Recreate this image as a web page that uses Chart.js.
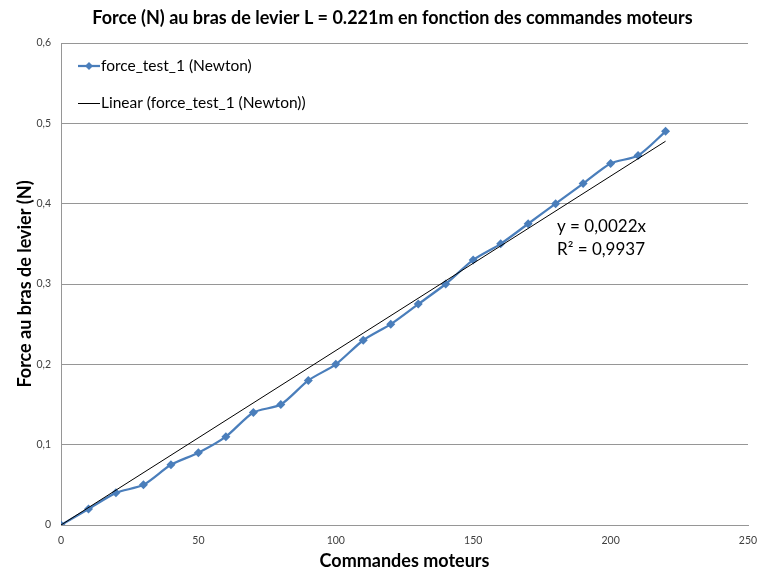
<!DOCTYPE html>
<html>
<head>
<meta charset="utf-8">
<script src="https://cdn.jsdelivr.net/npm/chart.js@4"></script>
<style>
  html, body { margin: 0; padding: 0; background: #fff; }
  #wrap { width: 759px; height: 572px; }
</style>
</head>
<body>
<div id="wrap"><canvas id="c" width="759" height="572"></canvas></div>
<script>
// Motor command values and measured force at the lever arm
const commandes = [0, 10, 20, 30, 40, 50, 60, 70, 80, 90, 100, 110, 120, 130, 140, 150, 160, 170, 180, 190, 200, 210, 220];
const forceTest1 = [0, 0.02, 0.04, 0.05, 0.075, 0.09, 0.11, 0.14, 0.15, 0.18, 0.2, 0.23, 0.25, 0.275, 0.3, 0.33, 0.35, 0.375, 0.4, 0.425, 0.45, 0.46, 0.49];
const xTicks = [0, 50, 100, 150, 200, 250];
const yTicks = [0, 0.1, 0.2, 0.3, 0.4, 0.5, 0.6];
const yTickLabels = ['0', '0,1', '0,2', '0,3', '0,4', '0,5', '0,6'];
const rSquaredText = '0,9937';

const chartTitle = 'Force (N) au bras de levier L = 0.221m en fonction des commandes moteurs';
const seriesLabel = 'force_test_1 (Newton)';
const trendLabel = 'Linear (force_test_1 (Newton))';
const FONT = 'Lato, "Open Sans", sans-serif';
const BLUE = '#4a7ebb';
const GRID = '#969696';

// Least-squares linear trend forced through the origin
let sxy = 0, sxx = 0;
for (let i = 0; i < commandes.length; i++) {
  sxy += commandes[i] * forceTest1[i];
  sxx += commandes[i] * commandes[i];
}
const slope = sxy / sxx;
const xMax = Math.max(...commandes);
const trendPoints = [{x: 0, y: 0}, {x: xMax, y: slope * xMax}];
const equationText = 'y = ' + slope.toFixed(4).replace('.', ',') + 'x';

const seriesPoints = commandes.map((x, i) => ({x, y: forceTest1[i]}));

// Title, legend inside the plot area, and the trend equation
const overlay = {
  id: 'overlay',
  afterDatasetsDraw(chart) {
    const ctx = chart.ctx;
    const a = chart.chartArea;
    ctx.save();
    ctx.textBaseline = 'middle';

    // title, centred over the plot
    ctx.font = 'bold 18px ' + FONT;
    ctx.fillStyle = '#000';
    ctx.textAlign = 'center';
    ctx.fillText(chartTitle, (a.left + a.right) / 2 - 12, 18);

    ctx.font = '15.5px ' + FONT;
    ctx.textAlign = 'left';
    const lx = a.left + 17, lw = 22, tx = a.left + 40;
    // series entry
    let y = a.top + 23;
    ctx.strokeStyle = BLUE;
    ctx.lineWidth = 2.25;
    ctx.beginPath(); ctx.moveTo(lx, y); ctx.lineTo(lx + lw, y); ctx.stroke();
    ctx.fillStyle = BLUE;
    ctx.beginPath();
    const cx = lx + lw / 2, r = 4;
    ctx.moveTo(cx, y - r); ctx.lineTo(cx + r, y); ctx.lineTo(cx, y + r); ctx.lineTo(cx - r, y); ctx.closePath();
    ctx.fill();
    ctx.fillStyle = '#000';
    ctx.fillText(seriesLabel, tx, y);
    // trend entry
    y = a.top + 60;
    ctx.strokeStyle = '#000';
    ctx.lineWidth = 1;
    ctx.beginPath(); ctx.moveTo(lx, y + 0.5); ctx.lineTo(lx + lw, y + 0.5); ctx.stroke();
    ctx.fillText(trendLabel, tx, y);

    // equation
    ctx.font = '17px ' + FONT;
    ctx.fillText(equationText, a.left + 496, a.top + 184);
    ctx.fillText('R² = ' + rSquaredText, a.left + 496, a.top + 207);
    ctx.restore();
  }
};

new Chart(document.getElementById('c'), {
  type: 'scatter',
  data: {
    datasets: [
      {
        label: seriesLabel,
        data: seriesPoints,
        showLine: true,
        borderColor: BLUE,
        backgroundColor: BLUE,
        borderWidth: 2.25,
        tension: 0.25,
        pointStyle: 'rectRot',
        pointRadius: 4.5,
        pointHoverRadius: 4.5,
        pointBorderWidth: 0,
        order: 2
      },
      {
        label: trendLabel,
        data: trendPoints,
        showLine: true,
        borderColor: '#000',
        borderWidth: 1,
        pointRadius: 0,
        order: 1
      }
    ]
  },
  options: {
    responsive: false,
    animation: false,
    devicePixelRatio: 1,
    layout: { padding: { left: 0, right: 11, top: 43, bottom: 0 } },
    plugins: {
      legend: { display: false },
      tooltip: { enabled: false },
      title: { display: false }
    },
    scales: {
      x: {
        type: 'linear',
        min: 0,
        max: 250,
        afterBuildTicks(scale) { scale.ticks = xTicks.map(v => ({value: v})); },
        afterFit(scale) { scale.height = 47; scale.paddingRight = 0; scale.paddingLeft = 0; },
        grid: { display: false, drawTicks: false },
        border: { display: true, color: GRID, width: 1 },
        ticks: {
          color: '#404040',
          padding: 9,
          maxRotation: 0,
          font: { family: FONT, size: 10.5 },
          callback: v => String(v)
        },
        title: {
          display: true,
          text: 'Commandes moteurs',
          color: '#000',
          font: { family: FONT, size: 18, weight: 'bold', lineHeight: 1.2 },
          padding: { top: 1, bottom: 0 }
        }
      },
      y: {
        type: 'linear',
        min: 0,
        max: 0.6,
        afterBuildTicks(scale) { scale.ticks = yTicks.map(v => ({value: v})); },
        afterFit(scale) { scale.width = 61; scale.paddingTop = 0; scale.paddingBottom = 0; },
        grid: { display: true, color: GRID, lineWidth: 1, drawTicks: false },
        border: { display: true, color: GRID, width: 1 },
        ticks: {
          color: '#404040',
          padding: 10,
          font: { family: FONT, size: 10.5 },
          callback: (v) => {
            const i = yTicks.findIndex(t => Math.abs(t - v) < 1e-9);
            return i >= 0 ? yTickLabels[i] : '';
          }
        },
        title: {
          display: true,
          text: 'Force au bras de levier (N)',
          color: '#000',
          font: { family: FONT, size: 18, weight: 'bold', lineHeight: 1.2 },
          padding: { top: 14, bottom: 0 }
        }
      }
    }
  },
  plugins: [overlay]
});
</script>
</body>
</html>
